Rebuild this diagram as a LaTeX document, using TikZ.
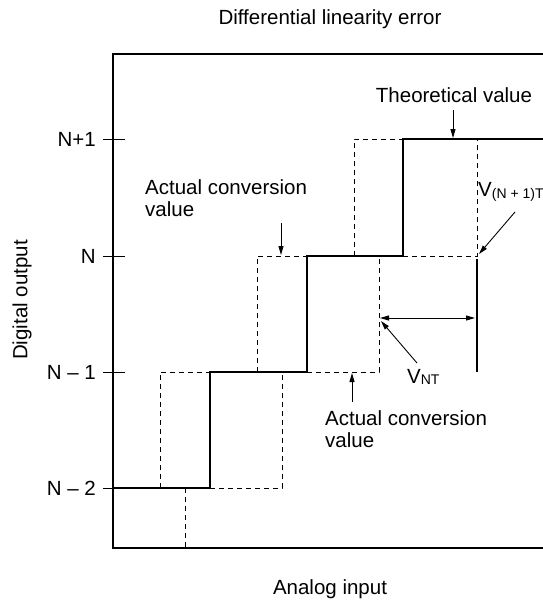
\documentclass[tikz,border=0pt]{standalone}
\usepackage{fontspec}
\setmainfont{Liberation Sans}
\usetikzlibrary{arrows.meta}
\newcommand{\lbl}{\fontsize{20.5}{22.5}\selectfont}
\newcommand{\subl}[1]{{\fontsize{14}{14}\selectfont\raisebox{-1.5pt}{#1}}}
\begin{document}
\begin{tikzpicture}[x=1pt,y=-1pt,
  frame/.style={line width=2.5pt,line join=miter},
  theo/.style={line width=2.7pt,line join=miter},
  actual/.style={line width=0.9pt,dash pattern=on 5pt off 4pt},
  tick/.style={line width=0.9pt},
  pointer/.style={line width=0.9pt,-{Triangle[length=9pt,width=5pt]}},
  txt/.style={font=\lbl,inner sep=0pt}]
\useasboundingbox (0,0) rectangle (543,603);
% frame
\coordinate (ftr) at (543,54);
\coordinate (ftl) at (113,54);
\coordinate (fbl) at (113,548);
\coordinate (fbr) at (543,548);
\draw[frame] (ftr) -- (ftl) -- (fbl) -- (fbr);
% levels / ticks
\foreach \y/\t/\n in {139/N+1/a,256/N/b,372/N – 1/c,488/N – 2/d}{
  \coordinate (tl\n) at (103,\y);
  \coordinate (tr\n) at (125,\y);
  \draw[tick] (tl\n) -- (tr\n);
  \node[txt,anchor=east] (lab\n) at (96,\y) {\t};
}
% theoretical staircase
\coordinate (s0) at (113,488);
\coordinate (s1) at (210,488);
\coordinate (s2) at (210,372);
\coordinate (s3) at (307,372);
\coordinate (s4) at (307,256);
\coordinate (s5) at (403,256);
\coordinate (s6) at (403,139);
\coordinate (s7) at (543,139);
\draw[theo] (s0) -- (s1) -- (s2) -- (s3) -- (s4) -- (s5) -- (s6) -- (s7);
\coordinate (v1) at (477,259);
\coordinate (v2) at (477,372);
\draw[theo] (v1) -- (v2);
% actual (dashed)
\coordinate (d1) at (282,488);
\coordinate (d2) at (282,372);
\draw[actual] (s1) -- (d1) -- (d2);
\coordinate (d3) at (160,488);
\coordinate (d4) at (160,372);
\draw[actual] (d3) -- (d4) -- (s2);
\coordinate (d5) at (185,488);
\coordinate (d6) at (185,548);
\draw[actual] (d5) -- (d6);
\coordinate (d7) at (257,372);
\coordinate (d8) at (257,256);
\draw[actual] (d7) -- (d8) -- (s4);
\coordinate (d9) at (379,372);
\coordinate (d10) at (379,256);
\draw[actual] (s3) -- (d9) -- (d10);
\coordinate (d11) at (354,256);
\coordinate (d12) at (354,139);
\draw[actual] (d11) -- (d12) -- (s6);
\coordinate (d13) at (477,256);
\coordinate (d14) at (477,139);
\draw[actual] (s5) -- (d13) -- (d14);
% texts
\node[txt] (title) at (330,19) {Differential linearity error};
\node[txt] (xlab) at (330,589) {Analog input};
\node[txt,rotate=90] (ylab) at (22,300) {Digital output};
\node[txt] (theolab) at (454,95) {Theoretical value};
\coordinate (theoA) at (453,110);
\coordinate (theoB) at (453,138);
\draw[pointer] (theoA) -- (theoB);
\node[txt,align=left,anchor=north west] (act1) at (145,179) {Actual conversion\\value};
\coordinate (act1A) at (281,223);
\coordinate (act1B) at (281,255);
\draw[pointer] (act1A) -- (act1B);
\node[txt,align=left,anchor=north west] (act2) at (325,410) {Actual conversion\\value};
\coordinate (act2A) at (352,402);
\coordinate (act2B) at (352,373);
\draw[pointer] (act2A) -- (act2B);
\node[txt,anchor=west] (vn1) at (478,192) {V\subl{(N + 1)T}};
\coordinate (vn1A) at (515,212);
\coordinate (vn1B) at (479,254);
\draw[pointer] (vn1A) -- (vn1B);
\node[txt,anchor=west] (vnt) at (407,377) {V\subl{NT}};
\coordinate (vntA) at (417,363);
\coordinate (vntB) at (381,321);
\draw[pointer] (vntA) -- (vntB);
\coordinate (dblA) at (380,318);
\coordinate (dblB) at (475,318);
\draw[pointer,{Triangle[length=9pt,width=5pt]}-{Triangle[length=9pt,width=5pt]}] (dblA) -- (dblB);
\end{tikzpicture}
\end{document}
